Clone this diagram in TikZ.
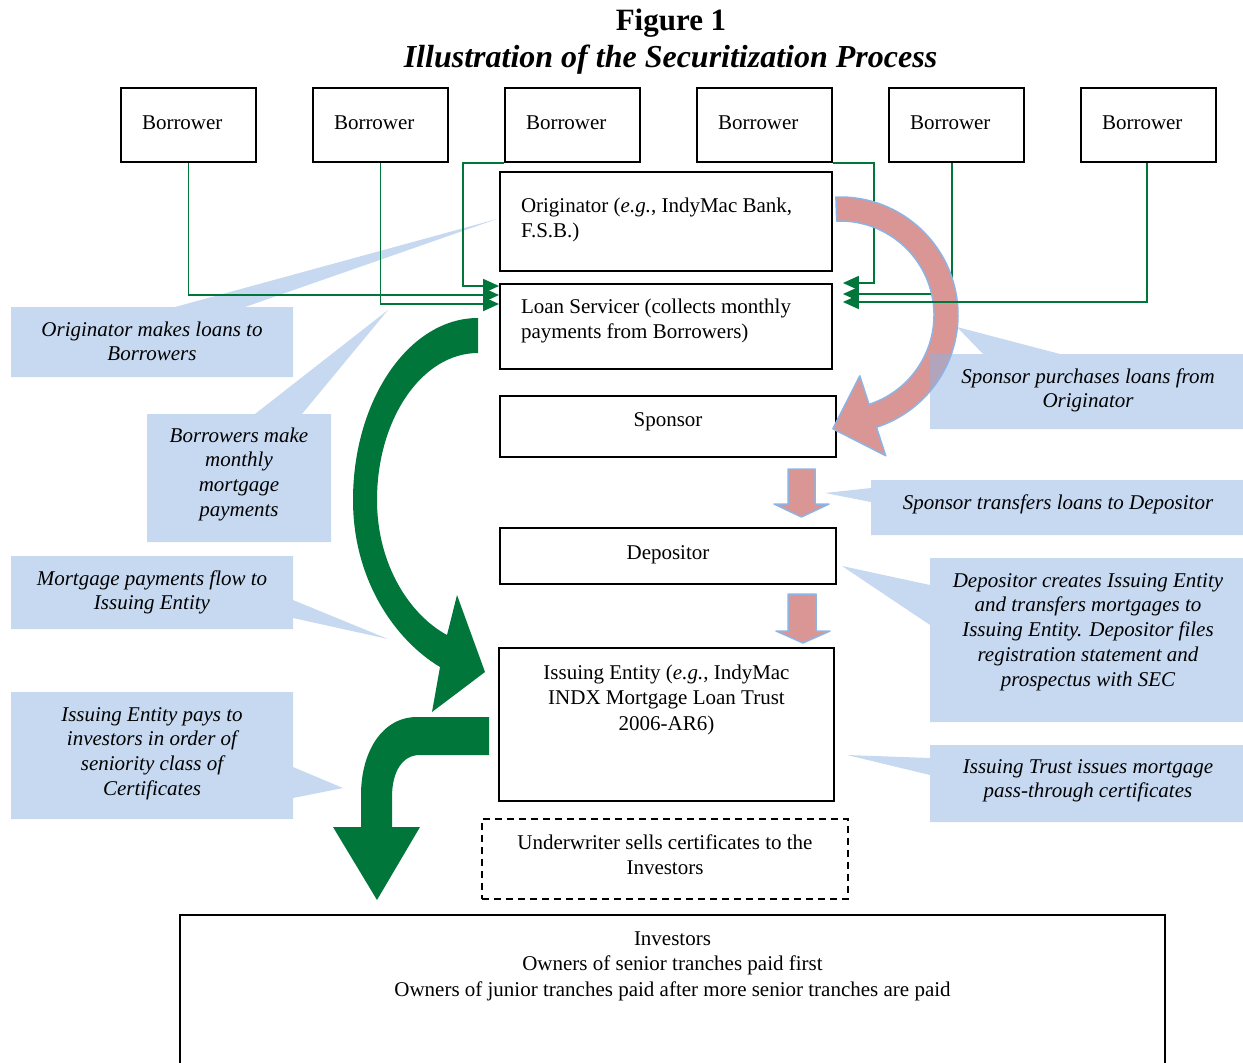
\documentclass[tikz,border=0pt]{standalone}
\usepackage{fontspec}
\setmainfont{Liberation Serif}
\usetikzlibrary{arrows.meta,calc}
\definecolor{grn}{RGB}{0,118,58}
\definecolor{pnk}{RGB}{217,150,148}
\definecolor{pbd}{RGB}{142,180,227}
\definecolor{cb}{RGB}{198,217,241}
\definecolor{cbt}{RGB}{141,179,227}
\newcommand\tbx[5]{\parbox[c][#1][t]{#2}{#3\rule{0pt}{#4}#5}}
\begin{document}
\begin{tikzpicture}[x=1pt,y=-1pt,
  box/.style={draw, line width=1.8pt, inner sep=0pt, font=\fontsize{21}{25.5}\selectfont},
  ctext/.style={inner sep=0pt, font=\itshape\fontsize{21}{24.75}\selectfont},
  callout/.style={fill=cb},
  gl/.style={draw=grn, line width=1.8pt, -{Triangle[length=16pt,width=14pt]}},
  pinkarrow/.style={fill=pnk, draw=pbd, line width=1.5pt, line join=round},
  bigarrow/.style={fill=grn}]
\clip (0,0) rectangle (1243,1063);

% callout shapes
\fill[callout] (11,307) -- (175,307) -- (497,219) -- (245,307) -- (293,307) -- (293,377) -- (11,377) -- cycle;
\fill[callout] (147,414) -- (255,414) -- (388,310) -- (302,414) -- (331,414) -- (331,542) -- (147,542) -- cycle;
\fill[callout] (11,556) -- (293,556) -- (293,600) -- (388,639) -- (293,618) -- (293,629) -- (11,629) -- cycle;
\fill[callout] (11,692) -- (293,692) -- (293,767) -- (343,788) -- (293,798) -- (293,819) -- (11,819) -- cycle;
\fill[callout] (871,480) -- (1243,480) -- (1243,535) -- (871,535) -- (871,502) -- (825,493) -- (871,488) -- cycle;
\fill[callout] (930,558) -- (1243,558) -- (1243,722) -- (930,722) -- (930,625) -- (842,566) -- (930,585) -- cycle;
\fill[callout] (930,745) -- (1243,745) -- (1243,822) -- (930,822) -- (930,775) -- (847,755) -- (930,758) -- cycle;

% boxes
\foreach \i/\x in {1/188.5,2/380.5,3/572.5,4/764.5,5/956.5,6/1148.5}
  \node[box, minimum width=135pt, minimum height=74pt] (b\i) at (\x,125) {\tbx{74pt}{93pt}{\raggedright}{41pt}{Borrower}};
\node[box, minimum width=332pt, minimum height=99pt] (orig) at (666,221.5)
  {\tbx{99pt}{290pt}{\raggedright}{40pt}{Originator (\textit{e.g.}, IndyMac Bank,\\F.S.B.)}};
\node[box, minimum width=332pt, minimum height=85pt] (ls) at (666,326.5)
  {\tbx{85pt}{290pt}{\raggedright}{29pt}{Loan Servicer (collects monthly\\payments from Borrowers)}};
\node[box, minimum width=336pt, minimum height=61pt] (sp) at (668,426.5)
  {\tbx{61pt}{320pt}{\centering}{30pt}{Sponsor}};
\node[box, minimum width=336pt, minimum height=56pt] (dep) at (668,556)
  {\tbx{56pt}{320pt}{\centering}{31pt}{Depositor}};
\node[box, minimum width=335pt, minimum height=153pt] (ie) at (666.5,724.5)
  {\tbx{153pt}{320pt}{\centering}{31pt}{Issuing Entity (\textit{e.g.}, IndyMac\\INDX Mortgage Loan Trust\\2006-AR6)}};
\node[box, dashed, dash pattern=on 7pt off 5pt, line width=1.5pt, minimum width=366pt, minimum height=80pt] (uw) at (665,859)
  {\tbx{80pt}{350pt}{\centering}{30pt}{Underwriter sells certificates to the\\Investors}};
\node[box, minimum width=985pt, minimum height=160pt] (inv) at (672.5,995)
  {\tbx{160pt}{960pt}{\centering}{30pt}{Investors\\Owners of senior tranches paid first\\Owners of junior tranches paid after more senior tranches are paid}};

% thin green connectors
\draw[gl] (b1.south) |- ([yshift=31.5pt]ls.west);
\draw[gl] (b2.south) |- ([yshift=22.5pt]ls.west);
\draw[gl] (b3.south west) -- ++(-41,0) |- ([yshift=40.5pt]ls.west);
\draw[gl] (b4.south east) -- ++(41,0) |- ([xshift=10pt,yshift=43.5pt]ls.east);
\draw[gl] ([xshift=-4.5pt]b5.south) |- ([xshift=10pt,yshift=32.5pt]ls.east);

% big green arrows
\fill[bigarrow] (478,318) .. controls (409,318) and (353,400) .. (353,500)
  .. controls (353,580) and (395,640) .. (440,667) -- (432,712) -- (485,672) -- (457,595) -- (447,635)
  .. controls (410,615) and (377,565) .. (377,500) .. controls (377,419) and (422,353) .. (478,353) -- cycle;
\fill[bigarrow] (489,717) -- (417,717) .. controls (382,717) and (361,752) .. (361,795) -- (361,827)
  -- (333,827) -- (377,900) -- (420,827) -- (392,827) -- (392,797)
  .. controls (392,772) and (402,755) .. (420,755) -- (489,755) -- cycle;

% pink arrows
\coordinate (pc) at (840,315);
\draw[pinkarrow] ($(pc)+(92:118pt)$) arc[start angle=92, end angle=-72, radius=118pt]
  -- ($(pc)+(-72:148pt)$) -- ($(pc)+(-72:106pt)+(-162:42pt)$) -- ($(pc)+(-72:64pt)$)
  -- ($(pc)+(-72:94pt)$) arc[start angle=-72, end angle=92, radius=94pt] -- cycle;
\draw[pinkarrow] (788,469) -- (815,469) -- (815,504) -- (829,504) -- (801.5,517) -- (774,504) -- (788,504) -- cycle;
\draw[pinkarrow] (788,594) -- (816,594) -- (816,631) -- (830,631) -- (803,643) -- (776,631) -- (788,631) -- cycle;

% semi-transparent callout over the pink arrow
\fill[cbt, fill opacity=0.5] (930,354) -- (983,354) -- (957,327) -- (1060,354) -- (1243,354) -- (1243,429) -- (930,429) -- cycle;

\draw[gl] ([xshift=-1.5pt]b6.south) |- ([xshift=10pt,yshift=24.5pt]ls.east);

% callout texts
\node[ctext] (t1) at (152,342) {\tbx{70pt}{282pt}{\centering}{29pt}{Originator makes loans to\\Borrowers}};
\node[ctext] (t2) at (239,478) {\tbx{128pt}{184pt}{\centering}{28pt}{Borrowers make\\monthly\\mortgage\\payments}};
\node[ctext] (t3) at (152,592.5) {\tbx{73pt}{282pt}{\centering}{29pt}{Mortgage payments flow to\\Issuing Entity}};
\node[ctext] (t4) at (152,755.5) {\tbx{127pt}{282pt}{\centering}{29pt}{Issuing Entity pays to\\investors in order of\\seniority class of\\Certificates}};
\node[ctext] (t5) at (1088,391.5) {\tbx{75pt}{313pt}{\centering}{29pt}{Sponsor purchases loans from\\Originator}};
\node[ctext] (t6) at (1058,507.5) {\tbx{55pt}{372pt}{\centering}{29pt}{Sponsor transfers loans to Depositor}};
\node[ctext] (t7) at (1088,640) {\tbx{164pt}{313pt}{\centering}{29pt}{Depositor creates Issuing Entity\\and transfers mortgages to\\Issuing Entity. Depositor files\\registration statement and\\prospectus with SEC}};
\node[ctext] (t8) at (1088,783.5) {\tbx{77pt}{313pt}{\centering}{28pt}{Issuing Trust issues mortgage\\pass-through certificates}};

% title
\node[anchor=base, inner sep=0pt, font=\bfseries\fontsize{31}{37}\selectfont] (title) at (671,30) {Figure 1};
\node[anchor=base, inner sep=0pt, font=\bfseries\itshape\fontsize{32}{38}\selectfont] (subtitle) at (670.5,67) {Illustration of the Securitization Process};
\end{tikzpicture}
\end{document}
